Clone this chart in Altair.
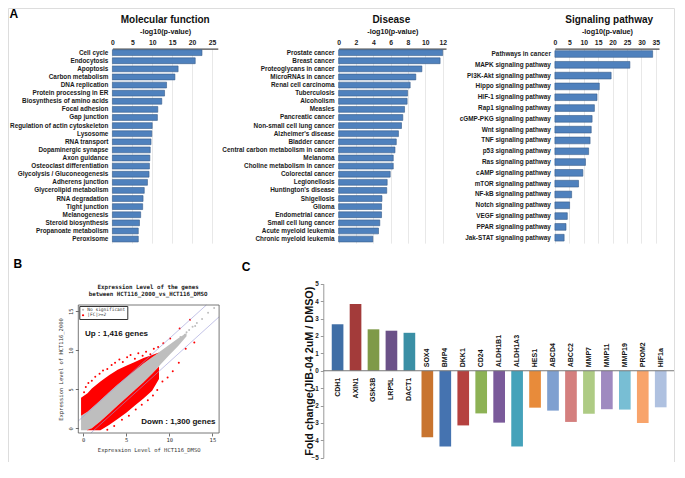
import altair as alt
import pandas as pd

SANS = "Liberation Sans"
MONO = "DejaVu Sans Mono"

# ---------------- Panel A data ----------------
mf_terms = ["Cell cycle", "Endocytosis", "Apoptosis", "Carbon metabolism", "DNA replication",
            "Protein processing in ER", "Biosynthesis of amino acids", "Focal adhesion", "Gap junction",
            "Regulation of actin cytoskeleton", "Lysosome", "RNA transport", "Dopaminergic synapse",
            "Axon guidance", "Osteoclast differentiation", "Glycolysis / Gluconeogenesis",
            "Adherens junction", "Glycerolipid metabolism", "RNA degradation", "Tight junction",
            "Melanogenesis", "Steroid biosynthesis", "Propanoate metabolism", "Peroxisome"]
mf_vals = [22.5, 20.8, 16.5, 15.7, 13.6, 13.1, 12.4, 11.4, 11.3, 10.0, 9.9, 9.7, 9.5, 9.4, 9.3,
           9.2, 8.8, 8.0, 7.7, 7.6, 7.1, 6.8, 6.5, 6.5]
mf_ticks = [0, 5, 10, 15, 20, 25]

dis_terms = ["Prostate cancer", "Breast cancer", "Proteoglycans in cancer", "MicroRNAs in cancer",
             "Renal cell carcinoma", "Tuberculosis", "Alcoholism", "Measles", "Pancreatic cancer",
             "Non-small cell lung cancer", "Alzheimer's disease", "Bladder cancer",
             "Central carbon metabolism in cancer", "Melanoma", "Choline metabolism in cancer",
             "Colorectal cancer", "Legionellosis", "Huntington's disease", "Shigellosis", "Glioma",
             "Endometrial cancer", "Small cell lung cancer", "Acute myeloid leukemia",
             "Chronic myeloid leukemia"]
dis_vals = [12.0, 11.7, 9.6, 8.9, 8.25, 7.95, 7.9, 7.6, 7.4, 7.25, 6.9, 6.65, 6.5, 6.3, 6.3, 5.95,
            5.6, 5.55, 5.0, 4.95, 4.95, 4.75, 4.6, 3.95]
dis_ticks = [0, 2, 4, 6, 8, 10, 12]

sig_terms = ["Pathways in cancer", "MAPK signaling pathway", "PI3K-Akt signaling pathway",
             "Hippo signaling pathway", "HIF-1 signaling pathway", "Rap1 signaling pathway",
             "cGMP-PKG signaling pathway", "Wnt signaling pathway", "TNF signaling pathway",
             "p53 signaling pathway", "Ras signaling pathway", "cAMP signaling pathway",
             "mTOR signaling pathway", "NF-kB signaling pathway", "Notch signaling pathway",
             "VEGF signaling pathway", "PPAR signaling pathway", "Jak-STAT signaling pathway"]
sig_vals = [33.9, 26.0, 19.5, 15.4, 14.6, 13.7, 12.9, 12.6, 12.2, 11.7, 10.6, 9.7, 8.2, 5.8, 5.1,
            4.3, 3.85, 3.2]
sig_ticks = [0, 5, 10, 15, 20, 25, 30, 35]

# ---------------- Panel B data ----------------
b_title = "Expression Level of the genes\nbetween HCT116_2000_vs_HCT116_DMSO"
b_classes = ["No significant", "|FC|>=2"]
b_ticks = [0, 5, 10, 15]
frame_x = [-0.57, 15.78]
frame_y = [-0.61, 15.8]

gray_x = [-0.25, 0.5, 1.0, 2.0, 3.0, 4.0, 5.0, 6.0, 7.0, 8.0, 9.0, 10.0, 11.0, 12.0]
gray_lo = [-0.25, -0.25, 0.0, 0.9, 1.9, 2.9, 3.9, 4.9, 5.9, 7.0, 8.2, 9.4, 10.5, 11.8]
gray_hi = [1.6, 2.1, 2.6, 3.6, 4.6, 5.6, 6.5, 7.4, 8.3, 9.1, 9.9, 10.7, 11.5, 12.2]

redU_x = [-0.25, 0.5, 1.0, 2.0, 3.0, 4.0, 5.0, 6.0, 7.0, 8.0, 8.8]
redU_lo = [1.6, 2.1, 2.6, 3.6, 4.6, 5.6, 6.5, 7.4, 8.3, 9.1, 9.7]
redU_hi = [3.9, 4.5, 5.1, 6.0, 6.8, 7.5, 8.0, 8.5, 9.0, 9.4, 9.7]

redL_x = [0.4, 1.0, 2.0, 3.0, 4.0, 5.0, 6.0, 7.0, 8.0, 8.8]
redL_lo = [-0.25, -0.25, -0.25, 0.4, 1.2, 2.0, 2.9, 3.8, 4.8, 6.3]
redL_hi = [-0.25, 0.0, 0.9, 1.9, 2.9, 3.9, 4.9, 5.9, 7.0, 7.9]

gray_pt_x = [8.6, 9.0, 9.4, 9.7, 10.1, 10.5, 10.9, 11.3, 11.8, 12.3, 12.7, 13.2, 13.8, 14.5, 15.2,
             10.3, 11.6, 12.0, 9.8, 13.0]
gray_pt_y = [9.4, 9.2, 9.9, 10.1, 10.4, 10.9, 11.2, 11.7, 12.0, 12.6, 13.0, 13.5, 14.0, 14.8, 15.4,
             10.0, 11.6, 12.3, 9.6, 13.1]
redU_pt_x = [0.1, 0.3, 0.6, 1.0, 1.4, 1.9, 2.3, 2.8, 3.3, 3.7, 4.2, 4.6, 5.1, 5.5, 6.0, 6.4, 6.9,
             7.3, 7.8, 8.2, 8.7, 9.3, 10.1, 11.2, 12.4]
redU_pt_y = [4.6, 5.3, 5.8, 6.1, 6.6, 7.0, 7.4, 7.6, 8.1, 8.4, 8.8, 8.5, 9.1, 9.4, 8.9, 9.6, 9.3,
             9.8, 9.5, 10.2, 10.4, 10.9, 11.5, 12.8, 13.9]
redL_pt_x = [2.8, 3.6, 4.5, 5.3, 6.1, 6.8, 7.5, 8.1, 8.6, 9.2, 9.8, 10.4, 11.1, 11.9, 12.9]
redL_pt_y = [-0.2, 0.3, 1.1, 1.6, 2.4, 3.0, 3.6, 4.2, 4.9, 6.0, 6.5, 7.3, 8.4, 10.2, 11.0]

diag_up_x = [-0.57, 14.3]
diag_up_y = [0.93, 15.8]
diag_dn_x = [0.89, 15.78]
diag_dn_y = [-0.61, 14.28]

up_label = "Up : 1,416 genes"
down_label = "Down : 1,300 genes"

# ---------------- Panel C data ----------------
genes = ["CDH1", "AXIN1", "GSK3B", "LRP5L", "DACT1", "SOX4", "BMP4", "DKK1", "CD24", "ALDH1B1",
         "ALDH1A3", "HES1", "ABCD4", "ABCC2", "MMP7", "MMP11", "MMP19", "PROM2", "HIF1a"]
fold_change = [2.67, 3.84, 2.38, 2.30, 2.18, -3.82, -4.35, -3.14, -2.45, -2.98, -4.35, -2.12,
               -2.29, -2.94, -2.47, -2.21, -2.23, -3.0, -2.10]
gene_colors = ["#3F6EA6", "#A33B3A", "#7F9A48", "#6B5188", "#3A8FA5", "#C8742F", "#4573B0",
               "#B5413F", "#8DB255", "#7A5A9A", "#45A2BA", "#E88B3A", "#7FA0D0", "#D47F7E",
               "#AECB84", "#9F8AC0", "#78BED4", "#F8A46B", "#AFC1E0"]
c_ticks = [-5, -4, -3, -2, -1, 0, 1, 2, 3, 4, 5]
c_ytitle = "Fold change(JIB-04 2uM / DMSO)"

# ---------------- layout (pixels inside the single view) ----------------
W, H = 666, 454
A_TOP, A_BOT = 40.6, 235.1
BAR = "#4F81BD"
BAR_EDGE = "#385D8A"


def a_panel(terms, vals, dmax, ticks, x0, x1, pin, pout):
    df = pd.DataFrame({"term": terms, "value": vals})
    return alt.Chart(df).mark_bar(color=BAR, stroke=BAR_EDGE, strokeWidth=0.6).encode(
        x=alt.X("value:Q",
                scale=alt.Scale(domain=[0, dmax], range=[x0, x1], nice=False, zero=True),
                axis=alt.Axis(orient="top", offset=-A_TOP, values=ticks, format="d",
                              title="-log10(p-value)",
                              titleFont=SANS, titleFontSize=7.2, titleFontWeight="bold",
                              titleColor="#111", titleY=-16.7, titleBaseline="middle",
                              labelFont=SANS, labelFontSize=6.8, labelFontWeight="bold",
                              labelColor="#222", labelPadding=3.5, labelFlush=False,
                              labelOverlap=False, ticks=False, tickSize=0,
                              domainColor="#4d4d4d", domainWidth=1.4,
                              grid=True, gridColor="#d9d9d9", gridWidth=0.6)),
        y=alt.Y("term:N", sort=terms,
                scale=alt.Scale(domain=terms, range=[A_TOP, A_BOT],
                                paddingInner=pin, paddingOuter=pout),
                axis=alt.Axis(orient="left", offset=-x0, title=None, ticks=False, tickSize=0,
                              domain=False, labelFont=SANS, labelFontSize=6.4,
                              labelFontWeight="bold", labelColor="#1a1a1a", labelPadding=4.5,
                              labelLimit=300, labelOverlap=False)),
    )


mf = a_panel(mf_terms, mf_vals, 26.47, mf_ticks, 104.4, 209.8, 0.28, 0.14)
dis = a_panel(dis_terms, dis_vals, 12.38, dis_ticks, 330.6, 438.0, 0.28, 0.14)
sig = a_panel(sig_terms, sig_vals, 36.1, sig_ticks, 546.9, 651.0, 0.38, 0.19)

# ---------------- Panel B ----------------
BX0, BX1, BY0, BY1 = 70.3, 211.1, 425.0, 297.0
xs = alt.Scale(domain=frame_x, range=[BX0, BX1], nice=False, zero=False)
ys = alt.Scale(domain=frame_y, range=[BY0, BY1], nice=False, zero=False)
cs = alt.Scale(domain=b_classes, range=["#BEBEBE", "#FF0000"])
xaxis = alt.Axis(orient="bottom", offset=BY0 - H, values=b_ticks,
                 title="Expression Level of HCT116_DMSO", domain=False, grid=False,
                 tickSize=3, tickColor="#333", tickWidth=0.7, labelFont=MONO, labelFontSize=5.5,
                 labelColor="#333", labelPadding=1.5, labelFlush=False, labelOverlap=False,
                 titleFont=MONO, titleFontSize=5.5, titleFontWeight="normal", titleColor="#333",
                 titleX=(BX0 + BX1) / 2, titleY=16.9, titleBaseline="middle")
yaxis = alt.Axis(orient="left", offset=-BX0, values=b_ticks,
                 title="Expression Level of HCT116_2000", domain=False, grid=False,
                 tickSize=3, tickColor="#333", tickWidth=0.7, labelFont=MONO, labelFontSize=5.5,
                 labelColor="#333", labelPadding=1.5, labelFlush=False, labelOverlap=False,
                 labelAngle=270, labelAlign="center", labelBaseline="bottom", titleFont=MONO,
                 titleFontSize=5.5, titleFontWeight="normal", titleColor="#333", titleX=-17.6,
                 titleY=(BY0 + BY1) / 2, titleBaseline="middle", titleAngle=270)
leg = alt.Legend(title=None, orient="none", legendX=BX0 + 1, legendY=BY1 + 1, fillColor="white",
                 strokeColor="#333", padding=1.5, labelFont=MONO, labelFontSize=4.5,
                 labelColor="#333", symbolType="circle", symbolSize=5, symbolStrokeWidth=0,
                 rowPadding=0.5, labelOffset=2)


def band(xv, lo, hi, cls):
    df = pd.DataFrame({"x": xv, "lo": lo, "hi": hi, "cls": cls})
    return alt.Chart(df).mark_area(opacity=1).encode(
        x=alt.X("x:Q", scale=xs, axis=xaxis),
        y=alt.Y("lo:Q", scale=ys, axis=yaxis),
        y2="hi:Q",
        color=alt.Color("cls:N", scale=cs, legend=leg))


def pts(xv, yv, cls):
    df = pd.DataFrame({"x": xv, "y": yv, "cls": cls})
    return alt.Chart(df).mark_circle(size=4, opacity=1).encode(
        x=alt.X("x:Q", scale=xs, axis=xaxis),
        y=alt.Y("y:Q", scale=ys, axis=yaxis),
        color=alt.Color("cls:N", scale=cs, legend=leg))


diag_df = pd.DataFrame({"x": diag_up_x + diag_dn_x, "y": diag_up_y + diag_dn_y,
                        "line": ["up", "up", "down", "down"]})
diag = alt.Chart(diag_df).mark_line(color="#9A9AD6", strokeWidth=0.6).encode(
    x=alt.X("x:Q", scale=xs, axis=xaxis), y=alt.Y("y:Q", scale=ys, axis=yaxis), detail="line:N")

frame_df = pd.DataFrame({"x0": [frame_x[0]], "x1": [frame_x[1]],
                         "y0": [frame_y[0]], "y1": [frame_y[1]]})
frame = alt.Chart(frame_df).mark_rect(fillOpacity=0, stroke="#555", strokeWidth=0.8).encode(
    x=alt.X("x0:Q", scale=xs, axis=xaxis), x2="x1:Q",
    y=alt.Y("y0:Q", scale=ys, axis=yaxis), y2="y1:Q")

up_txt = alt.Chart(pd.DataFrame({"t": [up_label]})).mark_text(
    align="left", baseline="middle", font=SANS, fontSize=8, fontWeight="bold", color="#111").encode(
    x=alt.datum(0.2), y=alt.datum(12.1), text="t:N")
down_txt = alt.Chart(pd.DataFrame({"t": [down_label]})).mark_text(
    align="right", baseline="middle", font=SANS, fontSize=8, fontWeight="bold", color="#111").encode(
    x=alt.datum(15.37), y=alt.datum(0.74), text="t:N")

panel_b = alt.layer(
    band(gray_x, gray_lo, gray_hi, b_classes[0]),
    band(redU_x, redU_lo, redU_hi, b_classes[1]),
    band(redL_x, redL_lo, redL_hi, b_classes[1]),
    pts(gray_pt_x, gray_pt_y, b_classes[0]),
    pts(redU_pt_x, redU_pt_y, b_classes[1]),
    pts(redL_pt_x, redL_pt_y, b_classes[1]),
    diag, frame, up_txt, down_txt,
)

# ---------------- Panel C ----------------
CX0, CY0, CY1 = 315.3, 449.8, 275.7
cdf = pd.DataFrame({"gene": genes, "fc": fold_change})
cx = alt.Scale(domain=genes, range=[CX0 + 5.3, CX0 + 346.4], paddingInner=0.35,
               paddingOuter=0.175)
cy = alt.Scale(domain=[-5, 5], range=[CY0, CY1], nice=False, zero=True)
cxaxis = None
cyaxis = alt.Axis(orient="left", offset=-CX0, values=c_ticks, title=c_ytitle, titleFont=SANS,
                  titleFontSize=10.8, titleFontWeight="bold", titleColor="#111", titleX=-14,
                  titleY=(CY0 + CY1) / 2, titleBaseline="middle", titleAngle=270,
                  labelFont=SANS, labelFontSize=6.3, labelFontWeight="bold", labelColor="#222",
                  labelPadding=2, labelOverlap=False, labelFlush=False,
                  tickSize=3, tickColor="#999", domainColor="#999", grid=False)

c_bars = alt.Chart(cdf).mark_bar().encode(
    x=alt.X("gene:N", scale=cx, axis=cxaxis, sort=genes),
    y=alt.Y("fc:Q", scale=cy, axis=cyaxis),
    color=alt.Color("gene:N", scale=alt.Scale(domain=genes, range=gene_colors), legend=None))

c_zero = alt.Chart(pd.DataFrame({"z": [0]})).mark_rule(color="#777", strokeWidth=1.2).encode(
    y=alt.Y("z:Q", scale=cy, axis=cyaxis), x=alt.value(CX0), x2=alt.value(W))

c_lab_pos = alt.Chart(cdf).transform_filter("datum.fc > 0").mark_text(
    angle=270, align="right", baseline="middle", dx=-7, font=SANS, fontSize=7,
    fontWeight="bold", color="#111").encode(
    x=alt.X("gene:N", scale=cx, axis=cxaxis, sort=genes), y=alt.datum(0), text="gene:N")
c_lab_neg = alt.Chart(cdf).transform_filter("datum.fc < 0").mark_text(
    angle=270, align="left", baseline="middle", dx=3.5, font=SANS, fontSize=7,
    fontWeight="bold", color="#111").encode(
    x=alt.X("gene:N", scale=cx, axis=cxaxis, sort=genes), y=alt.datum(0), text="gene:N")

panel_c = alt.layer(c_bars, c_zero, c_lab_pos, c_lab_neg)


# ---------------- titles / panel letters ----------------
def note(txt, px, py, size, weight="bold", font=SANS, color="#111", baseline="middle",
         line_height=None):
    kw = dict(align="center", baseline=baseline, font=font, fontSize=size, fontWeight=weight,
              color=color)
    if line_height is not None:
        kw.update(lineBreak="\n", lineHeight=line_height)
    return alt.Chart(pd.DataFrame({"t": [txt]})).mark_text(**kw).encode(
        x=alt.value(px), y=alt.value(py), text="t:N")


notes = [
    note("A", 5.9, 6.2, 12, color="#000"),
    note("Molecular function", 157.2, 12.4, 10),
    note("Disease", 383.3, 12.4, 10),
    note("Signaling pathway", 601.2, 12.4, 10),
    note("B", 9.8, 255.9, 12, color="#000"),
    note("C", 238.1, 258.8, 12, color="#000"),
    note(b_title, 140.2, 276.0, 5.8, font=MONO, color="#222", baseline="top", line_height=7.0),
]

chart = alt.layer(mf, dis, sig, panel_b, panel_c, *notes).resolve_scale(
    x="independent", y="independent", color="independent"
).properties(width=W, height=H, padding=0).configure_view(stroke=None).configure(
    background="white")

chart.save("out.html", embed_options={"renderer": "svg", "actions": False})
